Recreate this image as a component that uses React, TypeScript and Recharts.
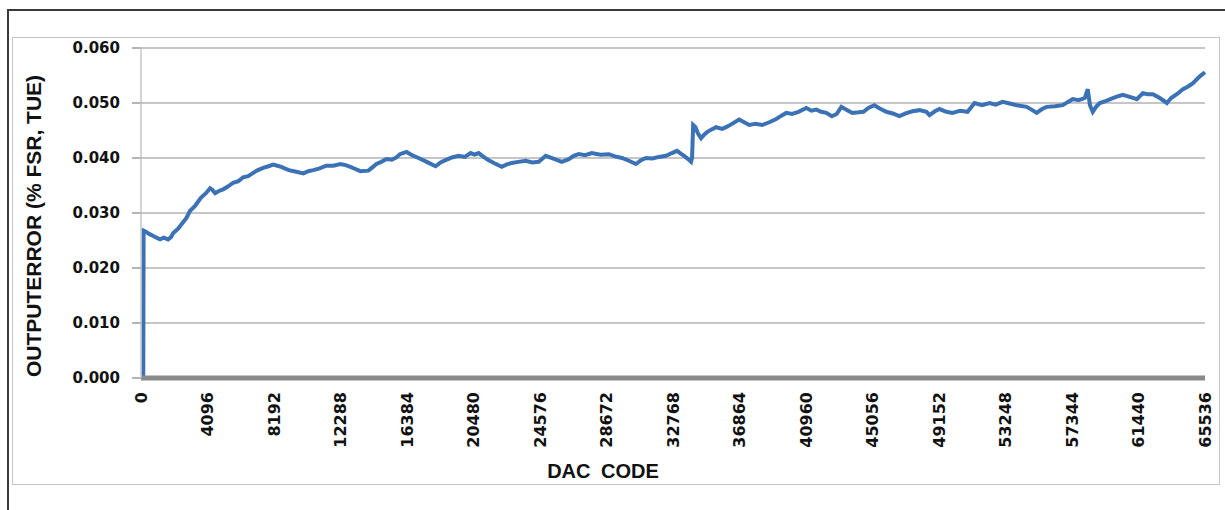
import { CartesianGrid, Line, LineChart, XAxis, YAxis } from "recharts";

const dacCodes = [
    0, 140, 160, 300, 500, 700, 900, 1172, 1400, 1666, 1850, 1975, 2300, 2592, 2800, 3024, 3300, 3500,
    3703, 4000, 4258, 4400, 4567, 4800, 5060, 5350, 5677, 6000, 6294, 6600, 6911, 7200, 7529, 7850,
    8146, 8400, 8640, 9100, 9565, 10000, 10300, 10614, 11000, 11416, 11850, 12280, 12600, 12897, 13200,
    13514, 14008, 14250, 14502, 14800, 15119, 15450, 15736, 15950, 16353, 16700, 17094, 17600, 18143,
    18450, 18760, 19150, 19562, 19950, 20303, 20550, 20796, 21100, 21413, 21800, 22216, 22500, 22833,
    23250, 23697, 24100, 24499, 24931, 25400, 25918, 26350, 26650, 26967, 27350, 27770, 28300, 28819,
    29200, 29621, 30050, 30485, 30800, 31102, 31500, 31905, 32336, 32700, 33016, 33250, 33448, 33700,
    33880, 33942, 34010, 34150, 34300, 34497, 34700, 34867, 35150, 35422, 35800, 36100, 36400, 36841,
    37150, 37458, 37850, 38260, 38700, 39124, 39450, 39741, 40100, 40500, 40976, 41300, 41593, 41900,
    42210, 42550, 42850, 43137, 43500, 43816, 44200, 44500, 44800, 45172, 45500, 45912, 46300, 46714,
    47100, 47517, 47949, 48380, 48566, 48900, 49183, 49600, 49985, 50450, 50911, 51343, 51800, 52268,
    52650, 53071, 53500, 53935, 54552, 54850, 55169, 55500, 55786, 56300, 56773, 57100, 57390, 57750,
    58130, 58315, 58450, 58623, 58850, 59055, 59450, 59857, 60150, 60474, 60900, 61338, 61708, 62000,
    62325, 62750, 63189, 63450, 63800, 64178, 64500, 64795, 65200, 65536,
];

// output error, % FSR (TUE)
const outputError = [
    0.0, 0.0, 0.0268, 0.0266, 0.0262, 0.0259, 0.0256, 0.0252, 0.0255, 0.0252, 0.0256, 0.0263, 0.0272,
    0.0283, 0.0291, 0.0304, 0.0312, 0.032, 0.0328, 0.0336, 0.0345, 0.0342, 0.0336, 0.034, 0.0343, 0.0348,
    0.0355, 0.0358, 0.0365, 0.0367, 0.0373, 0.0378, 0.0382, 0.0385, 0.0388, 0.0386, 0.0384, 0.0378,
    0.0375, 0.0372, 0.0376, 0.0378, 0.0381, 0.0386, 0.0386, 0.0389, 0.0387, 0.0384, 0.038, 0.0376,
    0.0377, 0.0383, 0.0389, 0.0393, 0.0398, 0.0397, 0.0401, 0.0407, 0.0411, 0.0405, 0.04, 0.0393, 0.0385,
    0.0392, 0.0396, 0.0401, 0.0404, 0.0402, 0.0409, 0.0406, 0.0409, 0.0402, 0.0396, 0.039, 0.0384,
    0.0388, 0.0391, 0.0393, 0.0395, 0.0392, 0.0393, 0.0404, 0.0399, 0.0393, 0.0398, 0.0404, 0.0407,
    0.0405, 0.0409, 0.0406, 0.0407, 0.0403, 0.04, 0.0395, 0.0389, 0.0396, 0.04, 0.0399, 0.0402, 0.0404,
    0.0409, 0.0413, 0.0408, 0.0404, 0.0398, 0.0393, 0.04, 0.046, 0.0456, 0.0445, 0.0436, 0.0443, 0.0447,
    0.0452, 0.0456, 0.0453, 0.0457, 0.0462, 0.047, 0.0465, 0.046, 0.0462, 0.046, 0.0465, 0.0471, 0.0477,
    0.0482, 0.048, 0.0484, 0.0491, 0.0486, 0.0488, 0.0484, 0.0482, 0.0476, 0.048, 0.0493, 0.0487, 0.0482,
    0.0483, 0.0484, 0.0491, 0.0496, 0.049, 0.0484, 0.0481, 0.0476, 0.0481, 0.0485, 0.0487, 0.0484,
    0.0478, 0.0485, 0.0489, 0.0484, 0.0482, 0.0486, 0.0484, 0.05, 0.0496, 0.05, 0.0497, 0.0502, 0.0499,
    0.0496, 0.0493, 0.0488, 0.0482, 0.0489, 0.0493, 0.0494, 0.0496, 0.0502, 0.0507, 0.0505, 0.0509,
    0.0525, 0.0496, 0.0484, 0.0494, 0.05, 0.0504, 0.0509, 0.0512, 0.0515, 0.0511, 0.0507, 0.0518, 0.0516,
    0.0516, 0.0509, 0.05, 0.0509, 0.0516, 0.0525, 0.053, 0.0536, 0.0548, 0.0556,
];

const xTicks = [
    0, 4096, 8192, 12288, 16384, 20480, 24576, 28672, 32768, 36864, 40960, 45056, 49152, 53248, 57344,
    61440, 65536,
];
const yTicks = [0, 0.01, 0.02, 0.03, 0.04, 0.05, 0.06];

const data = dacCodes.map((code, i) => ({ code, err: outputError[i] }));

const tickFont = "'DejaVu Sans', Verdana, sans-serif";
const titleFont = "'Liberation Sans', Arial, sans-serif";

const XTick = (props: any) => {
    const { x, y, payload } = props;
    return (
        <g transform={`translate(${x},${y})`}>
            <text
                transform="rotate(-90)"
                textAnchor="end"
                dy="0.36em"
                fontFamily={tickFont}
                fontWeight="bold"
                fontSize={16}
                fill="#111"
            >
                {payload.value}
            </text>
        </g>
    );
};

const XTitle = (props: any) => {
    const { viewBox } = props;
    return (
        <text
            x={viewBox.x + viewBox.width / 2 - 70}
            y={viewBox.y + 100}
            textAnchor="middle"
            fontFamily={titleFont}
            fontWeight="bold"
            fontSize={20}
            fill="#111"
            style={{ wordSpacing: 5 }}
        >
            DAC CODE
        </text>
    );
};

const YTitle = (props: any) => {
    const { viewBox } = props;
    const cx = 33;
    const cy = viewBox.y + viewBox.height / 2 + 13;
    return (
        <text
            x={cx}
            y={cy}
            transform={`rotate(-90, ${cx}, ${cy})`}
            textAnchor="middle"
            dy="0.36em"
            fontFamily={titleFont}
            fontWeight="bold"
            fontSize={21}
            fill="#111"
        >
            OUTPUTERROR (% FSR, TUE)
        </text>
    );
};

export default function App() {
    return (
        <div
            style={{
                position: "absolute",
                left: 0,
                top: 0,
                width: 1225,
                height: 510,
                background: "#fff",
                overflow: "hidden",
            }}
        >
            {/* outer window frame */}
            <div
                style={{
                    position: "absolute",
                    left: 7,
                    top: 9,
                    width: 1230,
                    height: 520,
                    borderTop: "2px solid #3a3a3a",
                    borderLeft: "2px solid #3a3a3a",
                }}
            />
            {/* chart area border */}
            <div
                style={{
                    position: "absolute",
                    left: 12,
                    top: 37,
                    width: 1206,
                    height: 446,
                    border: "1px solid #c4c4c4",
                }}
            />
            <div style={{ position: "absolute", left: 0, top: 0 }}>
                <LineChart
                    width={1225}
                    height={510}
                    data={data}
                    margin={{ top: 48, right: 20, bottom: 0, left: 0 }}
                >
                    <CartesianGrid
                        vertical={false}
                        stroke="#c6c6c6"
                        strokeWidth={2}
                    />
                    <XAxis
                        dataKey="code"
                        type="number"
                        domain={[0, 65536]}
                        ticks={xTicks}
                        interval={0}
                        height={132}
                        tickSize={0}
                        tickMargin={14}
                        tickLine={false}
                        axisLine={{ stroke: "#8a8a8a", strokeWidth: 5 }}
                        tick={<XTick />}
                        label={<XTitle />}
                    />
                    <YAxis
                        type="number"
                        domain={[0, 0.06]}
                        ticks={yTicks}
                        interval={0}
                        width={141}
                        tickSize={9}
                        tickMargin={12}
                        tickFormatter={(v: number) => v.toFixed(3)}
                        tickLine={{ stroke: "#b5b5b5", strokeWidth: 2 }}
                        axisLine={{ stroke: "#c6c6c6", strokeWidth: 1.5 }}
                        tick={{
                            fontFamily: tickFont,
                            fontWeight: "bold",
                            fontSize: 15,
                            fill: "#111",
                        }}
                        label={<YTitle />}
                    />
                    <Line
                        type="linear"
                        dataKey="err"
                        stroke="#3b72b6"
                        strokeWidth={4}
                        dot={false}
                        isAnimationActive={false}
                    />
                </LineChart>
            </div>
        </div>
    );
}
